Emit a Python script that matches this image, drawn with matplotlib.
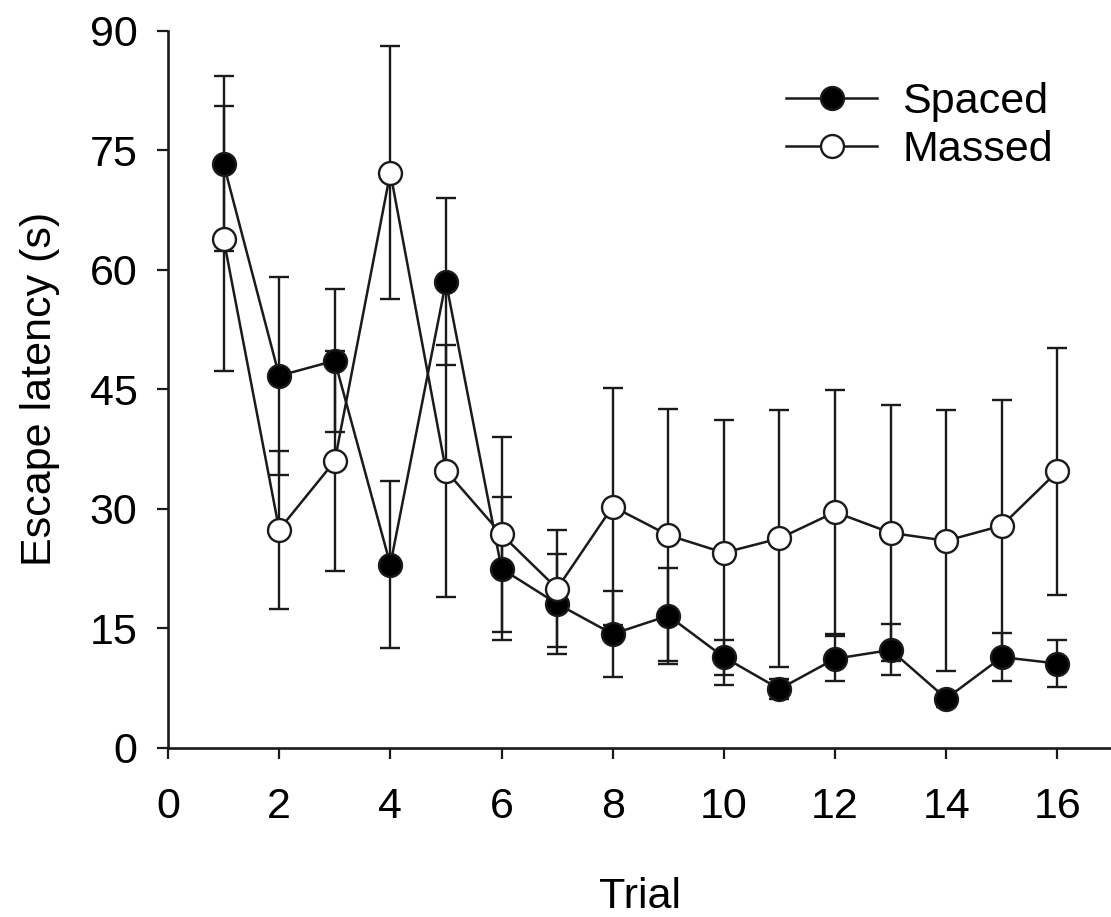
import numpy as np
import matplotlib
matplotlib.use("Agg")
import matplotlib.pyplot as plt

# values (mean +/- SE)
trials = np.arange(1, 17)
spaced = [73.3, 46.7, 48.6, 23.0, 58.5, 22.5, 18.1, 14.3, 16.6, 11.4, 7.4, 11.2, 12.3, 6.2, 11.4, 10.6]
spaced_se = [11.0, 12.4, 9.0, 10.5, 10.5, 9.0, 6.3, 5.4, 6.0, 2.2, 1.2, 2.8, 3.2, 1.0, 3.0, 3.0]
massed = [63.9, 27.4, 36.0, 72.2, 34.8, 26.8, 20.0, 30.3, 26.7, 24.5, 26.3, 29.6, 27.0, 26.0, 27.9, 34.7]
massed_se = [16.6, 9.9, 13.8, 15.9, 15.8, 12.2, 7.3, 14.9, 15.8, 16.6, 16.1, 15.3, 16.1, 16.4, 15.8, 15.5]

plt.rcParams['font.family'] = ['Liberation Sans', 'DejaVu Sans']
fs = 31
ink = '#1a1a1a'

fig = plt.figure(figsize=(11.11, 9.17), dpi=100)
ax = fig.add_axes([0.1512, 0.1843, 0.8506, 0.7822])

# error bars behind the markers
ax.errorbar(trials, spaced, yerr=spaced_se, fmt='none', ecolor=ink,
            elinewidth=1.7, capsize=7, capthick=1.7, zorder=2)
ax.errorbar(trials, massed, yerr=massed_se, fmt='none', ecolor=ink,
            elinewidth=1.7, capsize=7, capthick=1.7, zorder=2)

ax.plot(trials, spaced, '-o', color=ink, lw=1.8, ms=16.5, mfc='black',
        mec=ink, mew=1.7, label='Spaced', zorder=3)
ax.plot(trials, massed, '-o', color=ink, lw=1.8, ms=16.5, mfc='white',
        mec=ink, mew=1.7, label='Massed', zorder=4)

ax.set_xlim(0, 17)
ax.set_ylim(0, 90)
ax.set_xticks(np.arange(0, 17, 2))
ax.set_yticks(np.arange(0, 91, 15))

for s in ['top', 'right']:
    ax.spines[s].set_visible(False)
for s in ['left', 'bottom']:
    ax.spines[s].set_linewidth(1.9)
    ax.spines[s].set_color(ink)

ax.tick_params(direction='out', length=8, width=1.6, colors=ink,
               labelsize=fs, pad=14)
ax.tick_params(axis='x', pad=20)
ax.tick_params(axis='both', labelcolor='black')

ax.set_xlabel('Trial', fontsize=fs)
ax.set_ylabel('Escape latency (s)', fontsize=fs)
ax.xaxis.set_label_coords(0.5, -0.18)
ax.yaxis.set_label_coords(-0.114, 0.5)

ax.legend(loc='center left', bbox_to_anchor=(0.7075, 0.8627),
          bbox_transform=fig.transFigure, frameon=False, fontsize=fs,
          borderpad=0, borderaxespad=0, handlelength=2.12,
          handletextpad=0.58, labelspacing=0.2)

fig.savefig('out.png', dpi=100)
